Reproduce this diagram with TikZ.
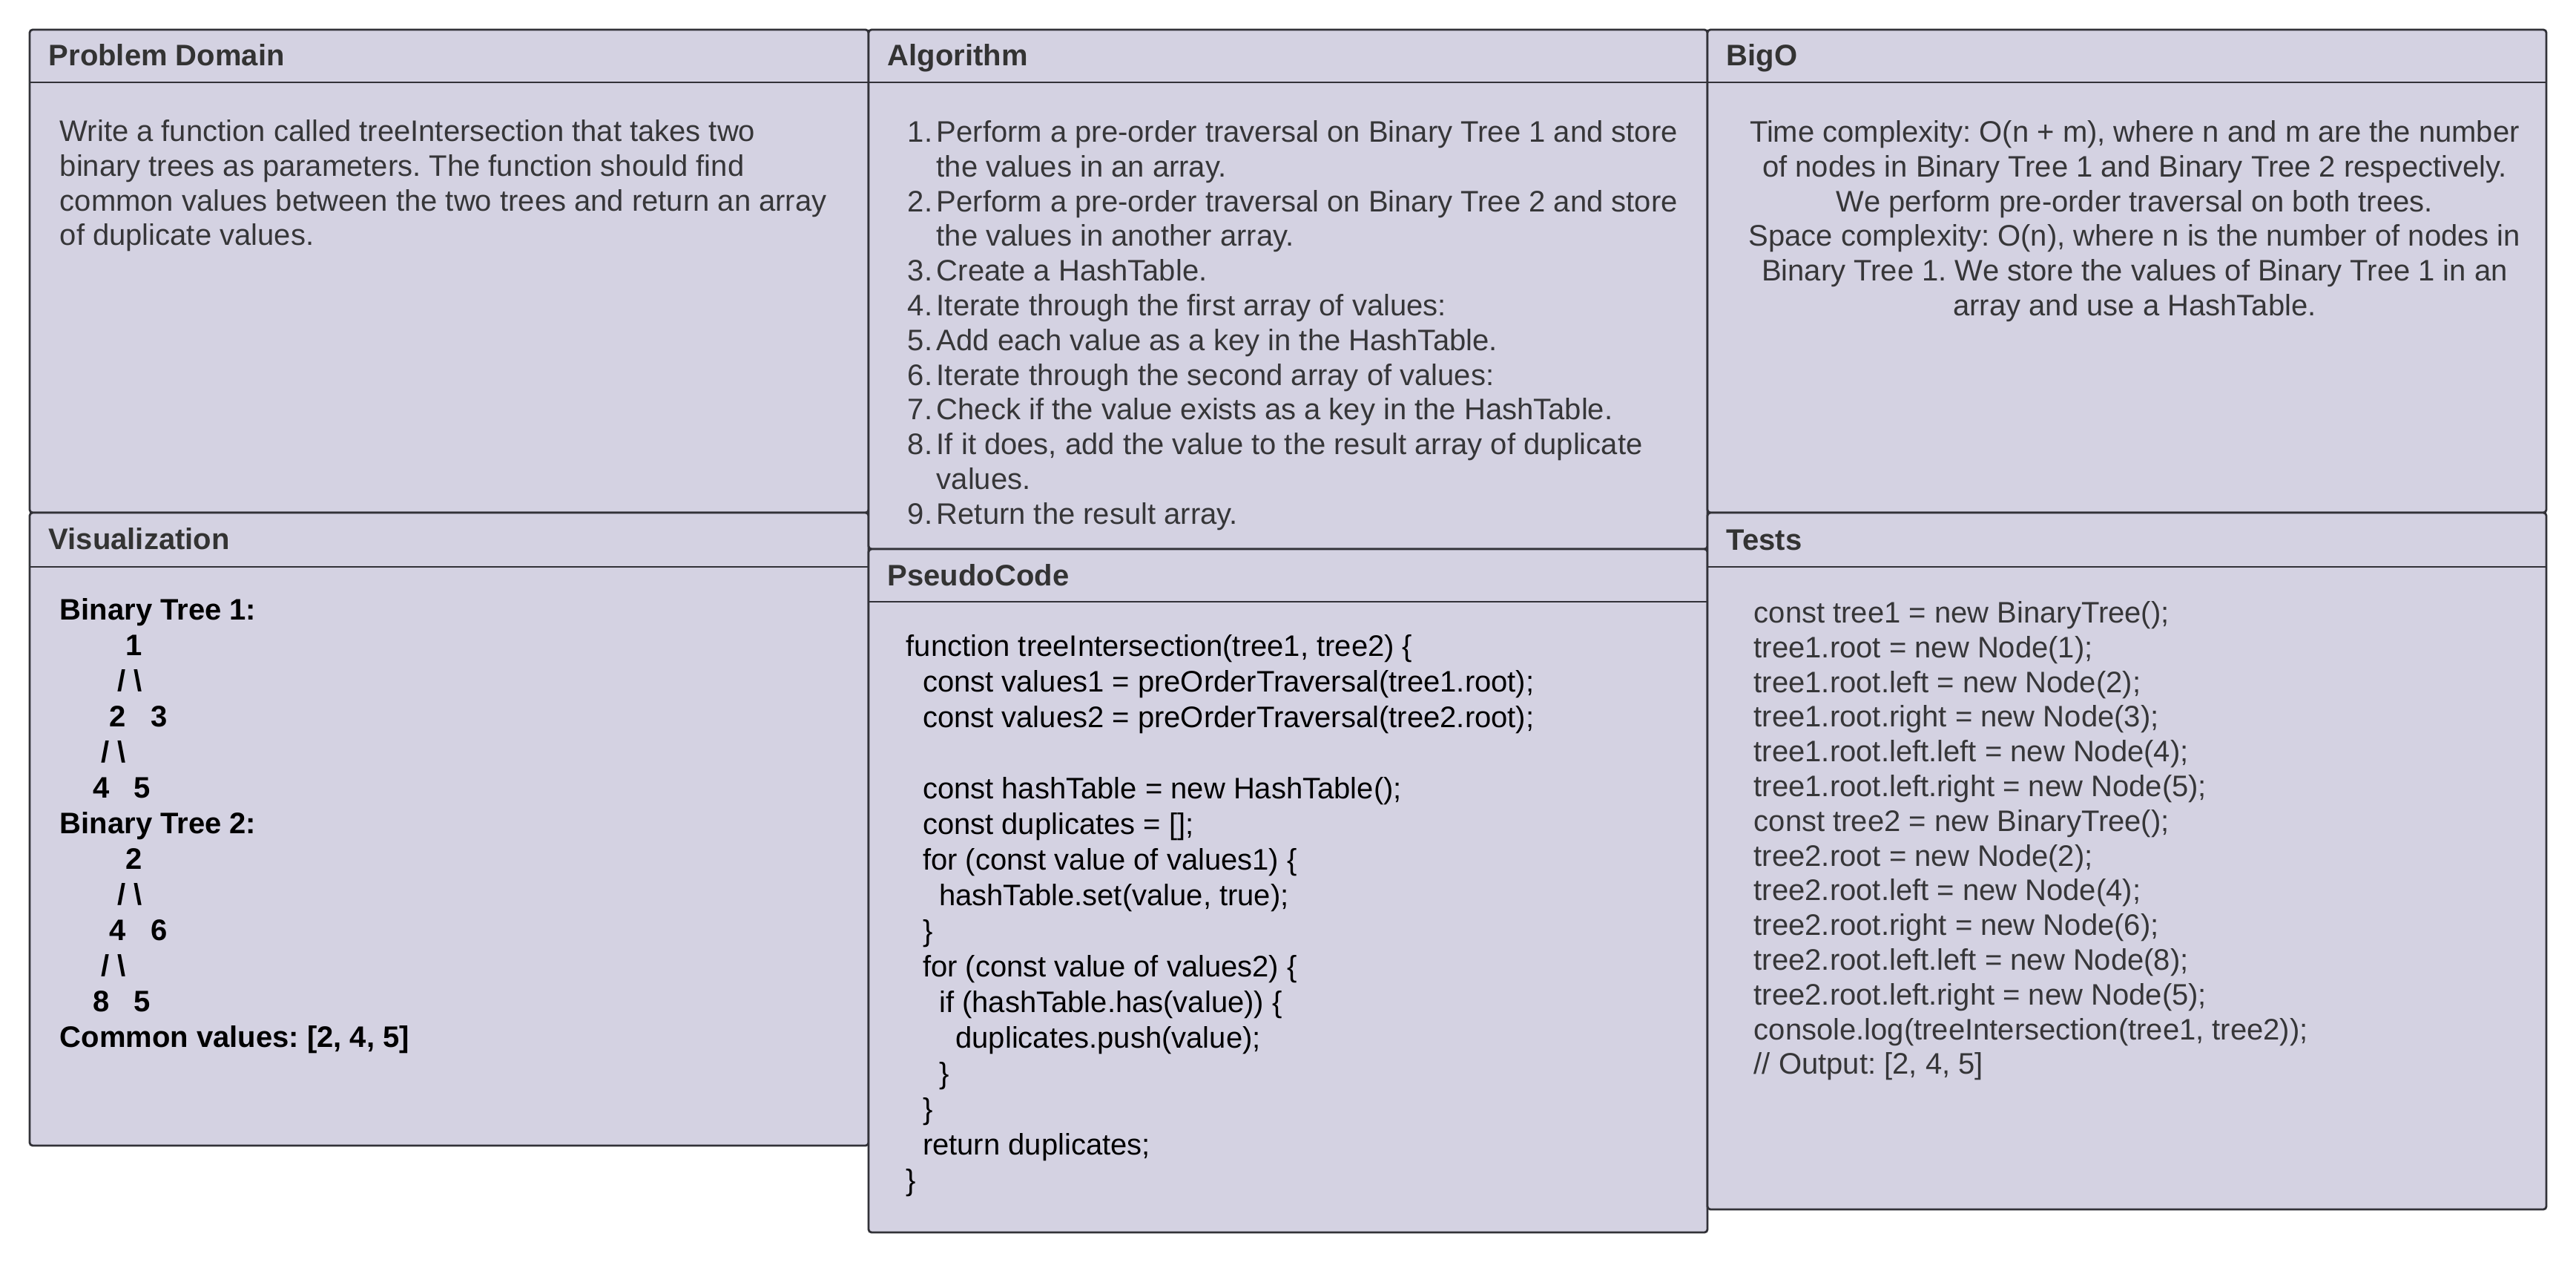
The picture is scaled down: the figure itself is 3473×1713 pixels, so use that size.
\documentclass[tikz,border=0pt]{standalone}
\usepackage{fontspec}
\setmainfont{Liberation Sans}
\frenchspacing

\definecolor{panelfill}{RGB}{212,210,226}
\definecolor{panelline}{RGB}{50,50,56}
\definecolor{titlegray}{RGB}{51,51,51}
\definecolor{prosegray}{RGB}{54,54,56}

\newcommand{\indentsp}[1]{\hspace*{#1\fontdimen2\font}}
\newcommand{\stepno}[1]{\makebox[9.75pt][l]{#1}}
\newcommand{\contline}{\hspace*{9.75pt}}

\tikzstyle{panel} = [draw=panelline, fill=panelfill, line width=0.7pt, rounded corners=1pt]
\tikzstyle{rule} = [draw=panelline, line width=0.7pt]
\tikzstyle{title} = [anchor=base west, inner sep=0, text=titlegray, font=\fontsize{10}{12}\selectfont\bfseries]
\tikzstyle{prose} = [anchor=north west, align=left, inner sep=0, text=prosegray, font=\fontsize{10}{11.7}\selectfont]
\tikzstyle{code} = [anchor=north west, align=left, inner sep=0, text=black, font=\fontsize{10}{12}\selectfont]

\begin{document}
\begin{tikzpicture}[x=0.25pt, y=-0.25pt]
\useasboundingbox (0,0) rectangle (3473,1713);

% LEFT COLUMN
\draw[panel] (40,40) rectangle (1171,691);
\draw[rule] (40,111) -- (1171,111);
\draw[panel] (40,691) rectangle (1171,1544);
\draw[rule] (40,764) -- (1171,764);

% MIDDLE COLUMN
\draw[panel] (1171,40) rectangle (2302,740);
\draw[rule] (1171,111) -- (2302,111);
\draw[panel] (1171,740) rectangle (2302,1661);
\draw[rule] (1171,811) -- (2302,811);

% RIGHT COLUMN
\draw[panel] (2302,40) rectangle (3433,691);
\draw[rule] (2302,111) -- (3433,111);
\draw[panel] (2302,691) rectangle (3433,1630);
\draw[rule] (2302,764) -- (3433,764);

% TITLES
\node[title] (domain) at (65,88) {Problem Domain};
\node[title] (algo) at (1196,88) {Algorithm};
\node[title] (bigo) at (2327,88) {BigO};
\node[title] (visual) at (65,740) {Visualization};
\node[title] (pseudo) at (1196,789) {PseudoCode};
\node[title] (tests) at (2327,741) {Tests};

% PROBLEM DOMAIN
\node[prose] (domain_txt) at (80,157) {\strut Write a function called treeIntersection that takes two\\
binary trees as parameters. The function should find\\
common values between the two trees and return an array\\
of duplicate values.};

% ALGORITHM
\node[prose] (algo_txt) at (1223,158) {\strut\stepno{1.}Perform a pre-order traversal on Binary Tree 1 and store\\
\contline the values in an array.\\
\stepno{2.}Perform a pre-order traversal on Binary Tree 2 and store\\
\contline the values in another array.\\
\stepno{3.}Create a HashTable.\\
\stepno{4.}Iterate through the first array of values:\\
\stepno{5.}Add each value as a key in the HashTable.\\
\stepno{6.}Iterate through the second array of values:\\
\stepno{7.}Check if the value exists as a key in the HashTable.\\
\stepno{8.}If it does, add the value to the result array of duplicate\\
\contline values.\\
\stepno{9.}Return the result array.};

% BIGO
\node[prose, anchor=north, align=center] (bigo_txt) at (2878,158) {\strut Time complexity: O(n + m), where n and m are the number\\
of nodes in Binary Tree 1 and Binary Tree 2 respectively.\\
We perform pre-order traversal on both trees.\\
Space complexity: O(n), where n is the number of nodes in\\
Binary Tree 1. We store the values of Binary Tree 1 in an\\
array and use a HashTable.};

% VISUALIZATION
\node[code, font=\fontsize{10}{12}\selectfont\bfseries] (visual_txt) at (80,801) {\strut Binary Tree 1:\\
\indentsp{8}1\\
\indentsp{7}/ \textbackslash\\
\indentsp{6}2\indentsp{3}3\\
\indentsp{5}/ \textbackslash\\
\indentsp{4}4\indentsp{3}5\\
Binary Tree 2:\\
\indentsp{8}2\\
\indentsp{7}/ \textbackslash\\
\indentsp{6}4\indentsp{3}6\\
\indentsp{5}/ \textbackslash\\
\indentsp{4}8\indentsp{3}5\\
Common values: [2, 4, 5]};

% PSEUDOCODE
\node[code] (pseudo_txt) at (1221,850) {\strut function treeIntersection(tree1, tree2) \{\\
\indentsp{2}const values1 = preOrderTraversal(tree1.root);\\
\indentsp{2}const values2 = preOrderTraversal(tree2.root);\\
\strut\\
\indentsp{2}const hashTable = new HashTable();\\
\indentsp{2}const duplicates = [];\\
\indentsp{2}for (const value of values1) \{\\
\indentsp{4}hashTable.set(value, true);\\
\indentsp{2}\}\\
\indentsp{2}for (const value of values2) \{\\
\indentsp{4}if (hashTable.has(value)) \{\\
\indentsp{6}duplicates.push(value);\\
\indentsp{4}\}\\
\indentsp{2}\}\\
\indentsp{2}return duplicates;\\
\}};

% TESTS
\node[prose] (tests_txt) at (2364,806) {\strut const tree1 = new BinaryTree();\\
tree1.root = new Node(1);\\
tree1.root.left = new Node(2);\\
tree1.root.right = new Node(3);\\
tree1.root.left.left = new Node(4);\\
tree1.root.left.right = new Node(5);\\
const tree2 = new BinaryTree();\\
tree2.root = new Node(2);\\
tree2.root.left = new Node(4);\\
tree2.root.right = new Node(6);\\
tree2.root.left.left = new Node(8);\\
tree2.root.left.right = new Node(5);\\
console.log(treeIntersection(tree1, tree2));\\
// Output: [2, 4, 5]};
\end{tikzpicture}
\end{document}
